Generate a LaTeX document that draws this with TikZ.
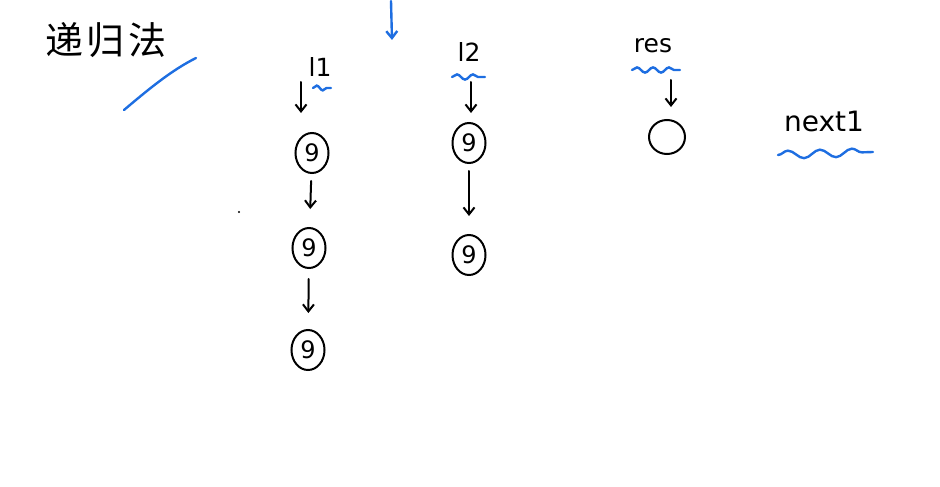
\documentclass[tikz,border=0pt]{standalone}
\usepackage{fontspec}
\setmainfont{DejaVu Sans}
\newfontfamily\cjkfont{Noto Sans CJK SC}
\usetikzlibrary{shapes.geometric,arrows.meta,decorations.pathmorphing}

\definecolor{inkblue}{RGB}{30,110,225}

\tikzset{
  ink/.style={line width=2pt,black,line cap=round},
  blueink/.style={line width=2.4pt,inkblue,line cap=round},
  arr/.style={ink,-{Straight Barb[length=7pt,width=11pt]}},
  cell/.style={draw,ink,ellipse,minimum width=33pt,minimum height=40pt,inner sep=0pt,font=\fontsize{24}{24}\selectfont},
  hand/.style={font=\fontsize{25}{25}\selectfont,inner sep=1pt},
  squiggle/.style={blueink,decorate,decoration={snake,segment length=16pt,amplitude=2.6pt}}
}

\begin{document}
\begin{tikzpicture}[x=1pt,y=1pt,yscale=-1,xscale=1]
\useasboundingbox (0,0) rectangle (940,487);

% Text Node
\node (title) at (106,40) {\fontsize{38}{38}\selectfont\cjkfont 递\hspace{4pt}归\hspace{4pt}法};
%Curve Lines
\draw [blueink] (124,110) .. controls (150,88) and (172,70) .. (196,58) ;

%Straight Lines
\coordinate (topA) at (391,1);
\coordinate (topB) at (392,40);
\draw [blueink,-{Straight Barb[length=7pt,width=11pt]}] (topA) -- (topB) ;

% Text Node
\node [hand] (lab1) at (320,67) {l1};
\node [hand] (lab2) at (469,52) {l2};
\node [hand] (labres) at (653,46) {res};
\node [hand,font=\fontsize{28}{28}\selectfont] (labnext) at (824,121) {next1};

%Squiggles
\draw [squiggle,decoration={segment length=12pt,amplitude=2.4pt}] (313,88) -- (331,88) ;
\draw [squiggle] (452,77) -- (485,77) ;
\draw [squiggle] (632,70) -- (680,70) ;
\draw [squiggle,decoration={segment length=32pt,amplitude=4pt}] (778,155) -- (873,152) ;

%Shape: Circle
\node [cell] (n11) at (312,153) {9};
\node [cell] (n12) at (309,248) {9};
\node [cell] (n13) at (308,350) {9};
\node [cell] (n21) at (469,143) {9};
\node [cell] (n22) at (469,255) {9};
\node [cell,minimum width=36pt,minimum height=34pt] (res0) at (667,137) {};

%Straight Lines
\coordinate (p1) at (301,82);
\coordinate (p2) at (301,113);
\draw [arr] (p1) -- (p2) ;
\coordinate (q1) at (471,82);
\coordinate (q2) at (471,113);
\draw [arr] (q1) -- (q2) ;
\coordinate (r1) at (671,80);
\coordinate (r2) at (671,107);
\draw [arr] (r1) -- (r2) ;
\draw [arr,shorten <=7pt,shorten >=18pt] (n11) -- (n12) ;
\draw [arr,shorten <=10pt,shorten >=16pt] (n12) -- (n13) ;
\draw [arr,shorten <=7pt,shorten >=18pt] (n21) -- (n22) ;

% dot
\fill (239,212) circle (1.2pt);

\end{tikzpicture}
\end{document}
